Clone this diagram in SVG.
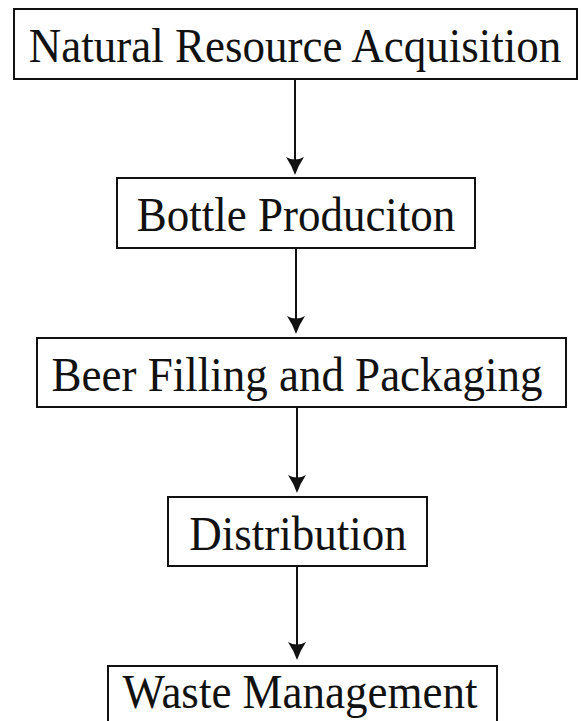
<svg xmlns="http://www.w3.org/2000/svg" width="582" height="721" viewBox="0 0 582 721">
<style>
.box{fill:#fff;stroke:#111;stroke-width:2}
.lbl{font-family:"Liberation Serif","Times New Roman",serif;font-size:45px;fill:#111;text-anchor:middle}
.conn{stroke:#111;stroke-width:2;fill:none}
</style>
<defs>
<marker id="ah" viewBox="0 0 18 18" refX="13" refY="9" markerWidth="18" markerHeight="18" markerUnits="userSpaceOnUse" orient="auto">
<path d="M0,0 Q9,6 18,9 Q9,12 0,18 Q5,9 0,0 Z" fill="#111"/>
</marker>
</defs>
<rect width="582" height="721" fill="#fff"/>
<g id="connectors">
<line class="conn" x1="295" y1="80" x2="295" y2="170" marker-end="url(#ah)"/>
<line class="conn" x1="296" y1="249" x2="296" y2="329" marker-end="url(#ah)"/>
<line class="conn" x1="297" y1="408" x2="297" y2="488" marker-end="url(#ah)"/>
<line class="conn" x1="297" y1="567" x2="297" y2="655" marker-end="url(#ah)"/>
</g>
<g id="n1">
<rect class="box" x="14" y="9" width="563" height="70"/>
<text class="lbl" transform="translate(295 62) scale(1 1.1)">Natural Resource Acquisition</text>
</g>
<g id="n2">
<rect class="box" x="117" y="178" width="358" height="70"/>
<text class="lbl" transform="translate(296 231) scale(1 1.1)">Bottle Produciton</text>
</g>
<g id="n3">
<rect class="box" x="37" y="338" width="529" height="69"/>
<text class="lbl" transform="translate(297 391) scale(1 1.1)">Beer Filling and Packaging</text>
</g>
<g id="n4">
<rect class="box" x="168" y="497" width="259" height="69"/>
<text class="lbl" transform="translate(298 550) scale(1 1.1)">Distribution</text>
</g>
<g id="n5">
<rect class="box" x="108" y="666" width="389" height="80"/>
<text class="lbl" transform="translate(300 708) scale(1 1.1)">Waste Management</text>
</g>
</svg>
